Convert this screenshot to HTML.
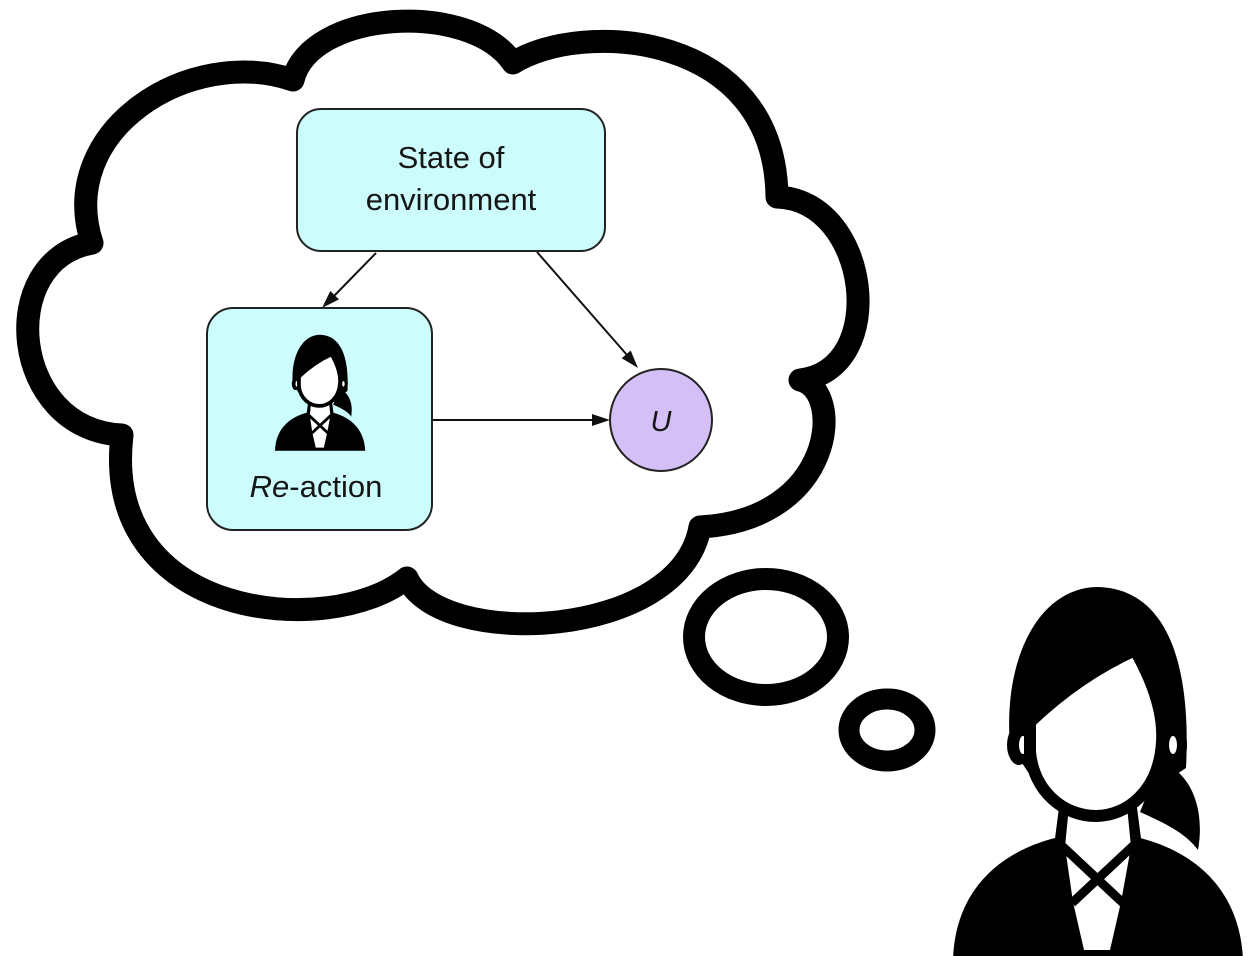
<!DOCTYPE html>
<html>
<head>
<meta charset="utf-8">
<style>
  html,body{margin:0;padding:0;background:#ffffff;}
  svg{display:block;}
  text{font-family:"Liberation Sans", Arial, sans-serif; fill:#161616;}
</style>
</head>
<body>
<svg width="1251" height="956" viewBox="0 0 1251 956" xmlns="http://www.w3.org/2000/svg">
  <defs>
    <g id="person">
      <!-- hair dome -->
      <path d="M1010,745 C1003,660 1038,588 1097,587 C1160,588 1192,650 1186,768 L1150,792 L1030,775 Z" fill="#000"/>
      <!-- ears -->
      <ellipse cx="1019" cy="745" rx="12" ry="20" fill="#000"/>
      <ellipse cx="1023" cy="745" rx="4" ry="9" fill="#fff"/>
      <ellipse cx="1176" cy="745" rx="11" ry="20" fill="#000"/>
      <ellipse cx="1173" cy="745" rx="4" ry="9" fill="#fff"/>
      <!-- ponytail -->
      <path d="M1160,762 C1188,770 1206,805 1198,850 C1185,832 1162,822 1140,812 Z" fill="#000"/>
      <!-- body -->
      <path d="M953,960 C955,890 1000,852 1055,838 L1140,838 C1195,852 1240,890 1243,960 Z" fill="#000"/>
      <!-- neck -->
      <path d="M1054,846 L1060,800 L1136,800 L1142,846 Z" fill="#000"/>
      <!-- shirt + neck white -->
      <path d="M1069,806 L1127,806 L1131,847 L1121,902 L1110,950 L1084,950 L1073,902 L1065,847 Z" fill="#fff"/>
      <path d="M1061,845 L1123,903 M1134,845 L1072,903" stroke="#000" stroke-width="9" fill="none"/>
      <!-- face -->
      <path d="M1030,722 Q1078,676 1135,650 C1152,680 1164,712 1162,742 C1159,792 1126,816 1096,816 C1064,816 1034,792 1030,752 Z" fill="#fff" stroke="#000" stroke-width="12" stroke-linejoin="round"/>
    </g>
  </defs>

  <!-- cloud -->
  <path d="M92,243 C55,130 190,45 293,80 C310,10 470,0 513,63 C580,20 775,30 777,197 C870,200 890,370 800,380 C845,390 835,520 700,527 C680,640 440,650 407,578 C330,640 100,620 122,435 C10,430 -5,260 92,243 Z"
        fill="#fff" stroke="#000" stroke-width="23" stroke-linejoin="round"/>

  <!-- thought bubbles -->
  <ellipse cx="766" cy="637" rx="72" ry="58" fill="none" stroke="#000" stroke-width="22"/>
  <ellipse cx="887" cy="730" rx="38" ry="31" fill="none" stroke="#000" stroke-width="21"/>

  <!-- connectors -->
  <line x1="376" y1="253" x2="334" y2="296" stroke="#111" stroke-width="2"/>
  <polygon points="322,308 339,299.4 330.3,291" fill="#111"/>
  <line x1="537" y1="252" x2="627" y2="355" stroke="#111" stroke-width="2"/>
  <polygon points="638,368 630.7,350.5 621.7,358.3" fill="#111"/>
  <line x1="432" y1="420" x2="593" y2="420" stroke="#111" stroke-width="2"/>
  <polygon points="610,420 592,414 592,426" fill="#111"/>

  <!-- State of environment -->
  <rect x="297" y="109" width="308" height="142" rx="24" ry="24" fill="#ccfcfc" stroke="#222" stroke-width="2"/>
  <text x="451" y="168" font-size="31" text-anchor="middle">State of</text>
  <text x="451" y="210" font-size="31" text-anchor="middle">environment</text>

  <!-- Re-action -->
  <rect x="207" y="308" width="225" height="222" rx="26" ry="26" fill="#ccfcfc" stroke="#222" stroke-width="2"/>
  <use href="#person" transform="translate(275,335) scale(0.311) translate(-953,-588)"/>
  <text x="316" y="497" font-size="31" text-anchor="middle"><tspan font-style="italic">Re</tspan>-action</text>

  <!-- U -->
  <circle cx="661" cy="420" r="51" fill="#d4c0f7" stroke="#222" stroke-width="2"/>
  <text x="661" y="431" font-size="29" font-style="italic" text-anchor="middle">U</text>

  <!-- big person -->
  <use href="#person"/>
</svg>
</body>
</html>
